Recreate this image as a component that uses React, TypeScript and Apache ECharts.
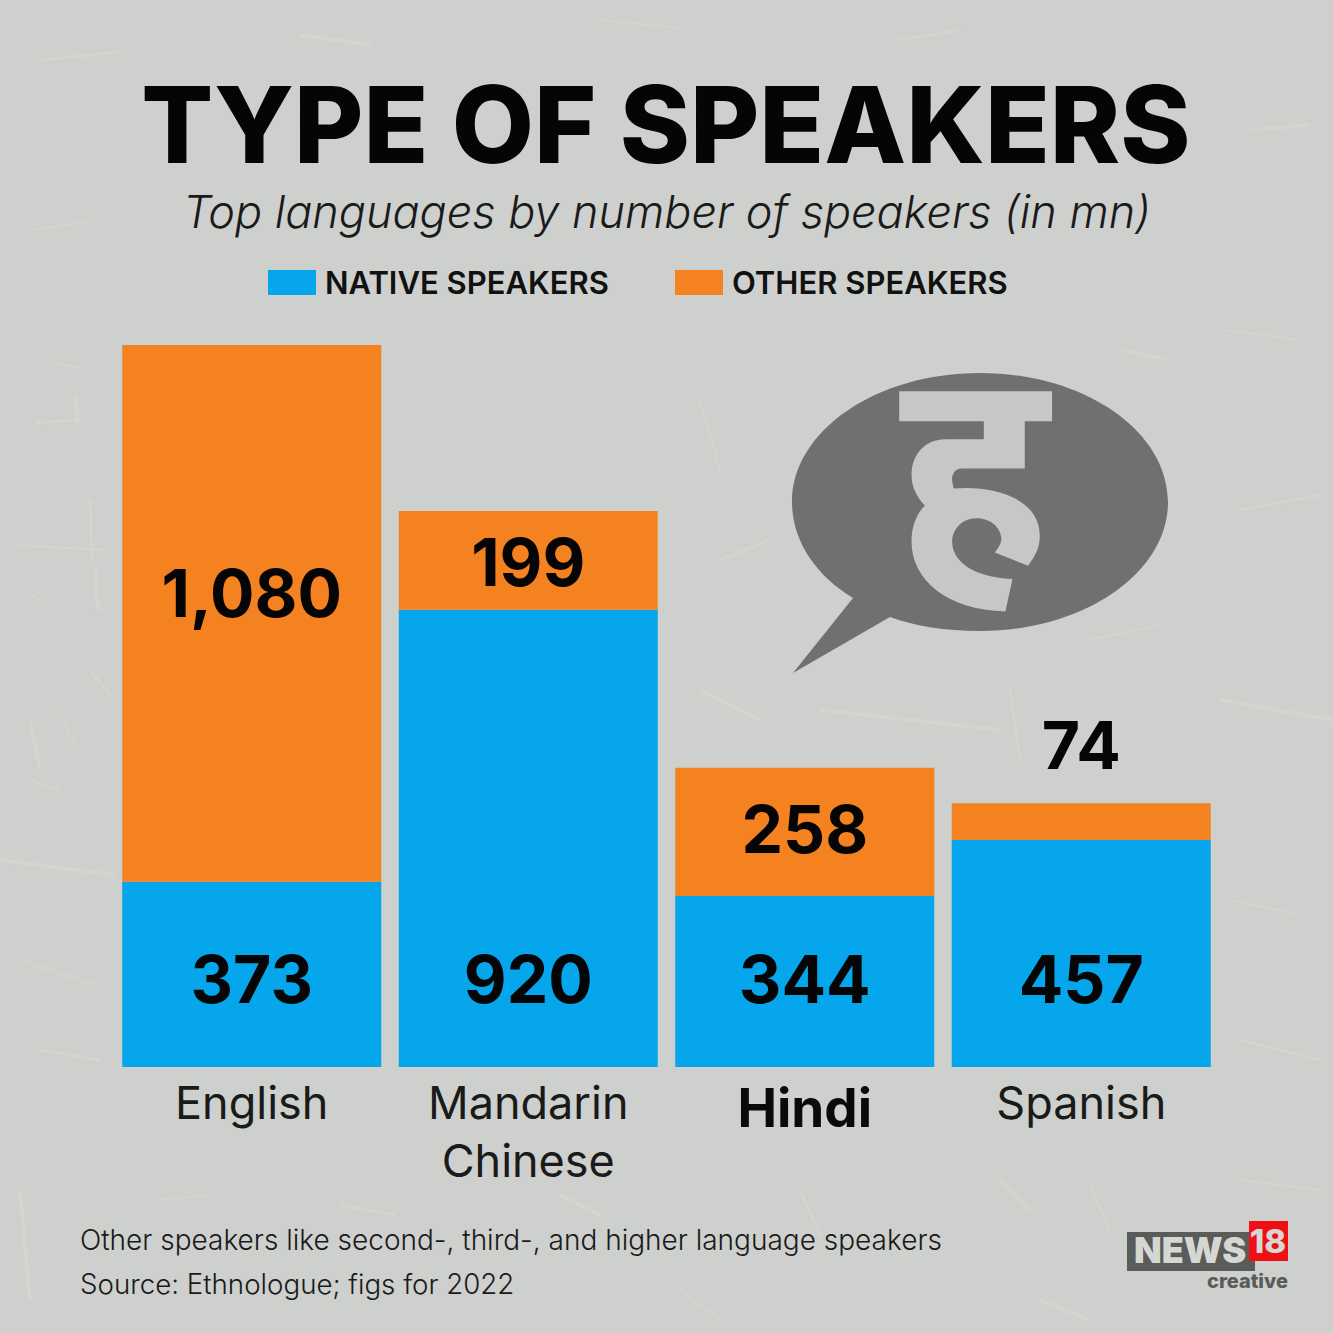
import React, { useEffect, useRef } from "react";
import * as echarts from "echarts";

const categories = ["English", "Mandarin\nChinese", "Hindi", "Spanish"];
const nativeSpeakers = [373, 920, 344, 457];
const otherSpeakers = [1080, 199, 258, 74];
const otherOffsets = [-20, 2, -3, -77];

const BUBBLE =
  "M980 373C1084 373 1168 431 1168 502C1168 573 1084 631 980 631C945 631 915 626 890 617L793 673L853 598C815 575 792 540 792 502C792 431 876 373 980 373Z";
const GLYPH =
  "M358 94L817 94L817 184L735 184L735 326L545 326C525 326 515 345 517 362C518 372 520 380 522 386C650 375 782 420 780 530C780 565 765 590 745 618L645 578C660 560 665 545 665 535C660 495 625 475 590 475C545 475 517 510 517 545C517 600 570 650 698 658L677 755C500 750 395 660 395 545C395 500 410 462 435 437C410 410 395 380 395 345C395 280 440 238 495 238L612 238L612 184L358 184Z";
echarts.graphic.registerShape("speechBubble", echarts.graphic.extendPath(BUBBLE, {}) as any);
echarts.graphic.registerShape("hindiGlyph", echarts.graphic.extendPath(GLYPH, {}) as any);

const FONT = "Inter, 'Noto Sans', sans-serif";

const scratches: number[][] = [
  [50, 362, 80, 368], [35, 423, 80, 420], [75, 395, 78, 425], [15, 545, 105, 550], [90, 500, 92, 560],
  [95, 570, 98, 610], [25, 590, 40, 600], [90, 670, 110, 695], [30, 720, 40, 770], [60, 715, 75, 745],
  [30, 780, 60, 790], [0, 860, 115, 875], [20, 960, 95, 985], [40, 1050, 100, 1060], [20, 1190, 30, 1300],
  [160, 1200, 210, 1195], [340, 1205, 395, 1215], [560, 1195, 600, 1215], [680, 1290, 720, 1320], [800, 1190, 820, 1235],
  [1000, 1180, 1030, 1210], [1090, 1185, 1110, 1230], [1240, 1180, 1320, 1190], [1040, 1300, 1090, 1320], [1225, 330, 1300, 340],
  [1240, 510, 1320, 495], [1220, 700, 1333, 720], [1230, 900, 1300, 915], [1240, 1040, 1320, 1060], [1250, 130, 1310, 125],
  [30, 230, 90, 222], [40, 60, 120, 52], [820, 710, 1000, 730], [1090, 640, 1160, 625], [1010, 690, 1020, 760],
  [700, 690, 760, 720], [700, 400, 720, 470], [720, 560, 770, 540], [1120, 350, 1170, 360], [600, 20, 680, 28],
  [900, 40, 960, 30], [300, 35, 370, 45],
];

export default function App() {
  const ref = useRef<HTMLDivElement>(null);
  useEffect(() => {
    const chart = echarts.init(ref.current!, null, { renderer: "svg" });
    const valueLabel = { show: true, fontFamily: FONT, fontWeight: 700, fontSize: 66, color: "#050505", letterSpacing: -3 };
    const text = (x: number, y: number, t: string, style: any) => ({
      type: "text", x, y, z: 10, style: { text: t, fontFamily: FONT, fill: "#111", textVerticalAlign: "middle", ...style },
    });
    chart.setOption({
      animation: false,
      backgroundColor: "#cdd0cc",
      legend: {
        left: 268, top: 267, padding: 0, itemWidth: 48, itemHeight: 25, itemGap: 66, icon: "rect",
        data: ["NATIVE SPEAKERS", "OTHER SPEAKERS"],
        textStyle: { fontFamily: FONT, fontWeight: 600, fontSize: 31, color: "#111", padding: [0, 0, 0, 4] },
      },
      grid: { left: 113.5, right: 113.5, top: 321.6, bottom: 266, containLabel: false },
      xAxis: {
        type: "category", data: categories,
        axisLine: { show: false }, axisTick: { show: false },
        axisLabel: {
          margin: 6, interval: 0, lineHeight: 58, verticalAlign: "top",
          formatter: (v: string) => (v === "Hindi" ? `{b|${v}}` : v),
          fontFamily: FONT, fontSize: 45, color: "#1a1a1a",
          rich: {
            b: { fontFamily: FONT, fontSize: 53, lineHeight: 70, fontWeight: 700, color: "#0a0a0a" },
          },
        },
      },
      yAxis: { type: "value", min: 0, max: 1500, interval: 500, show: false },
      graphic: [
        ...scratches.map(([x1, y1, x2, y2], i) => ({
          type: "line", z: -1, shape: { x1, y1, x2, y2 },
          style: { stroke: "#dadcd8", lineWidth: 2 + (i % 3), opacity: 0.4 },
        })),
        { type: "speechBubble", x: 0, y: 0, z: 5, style: { fill: "#6f716e" } },
        { type: "hindiGlyph", x: 780, y: 360, scaleX: 1 / 3, scaleY: 1 / 3, z: 6, style: { fill: "#c6c8c5" } },
        text(666, 124, "TYPE OF SPEAKERS", { fontSize: 106.5, fontWeight: 800, textAlign: "center", fill: "#050505", letterSpacing: -3.2 }),
        text(667, 211, "Top languages by number of speakers (in mn)", { fontSize: 45, fontWeight: 300, fontStyle: "italic", textAlign: "center", fill: "#1a1a1a" }),
        text(80, 1240, "Other speakers like second-, third-, and higher language speakers", { fontSize: 28, fontWeight: 300, fill: "#1a1a1a" }),
        text(80, 1284, "Source: Ethnologue; figs for 2022", { fontSize: 27.7, fontWeight: 300, fill: "#1a1a1a" }),
        { type: "rect", z: 7, shape: { x: 1127, y: 1232, width: 128, height: 39 }, style: { fill: "#5a5c5a" } },
        { type: "rect", z: 8, shape: { x: 1249, y: 1221, width: 39, height: 40 }, style: { fill: "#f00f14" } },
        text(1134, 1250, "NEWS", { fontSize: 36, fontWeight: 900, fill: "#d5d7d3", letterSpacing: -1 }),
        text(1268, 1241, "18", { fontSize: 33, fontWeight: 800, fill: "#d5d7d3", textAlign: "center", letterSpacing: -1 }),
        text(1288, 1281, "creative", { fontSize: 20, fontWeight: 800, fill: "#5a5c5a", textAlign: "right", letterSpacing: 1.5 }),
      ],
      series: [
        {
          name: "NATIVE SPEAKERS", type: "bar", stack: "total", barWidth: 259,
          itemStyle: { color: "#05a6eb" },
          data: nativeSpeakers.map((value) => ({ value, label: { ...valueLabel, position: "insideBottom", distance: 55, formatter: "{c}" } })),
        },
        {
          name: "OTHER SPEAKERS", type: "bar", stack: "total", barWidth: 259,
          itemStyle: { color: "#f58220" },
          data: otherSpeakers.map((value, i) => ({
            value,
            label: { ...valueLabel, position: "inside", offset: [0, otherOffsets[i]], formatter: (p: any) => Number(p.value).toLocaleString("en-US") },
          })),
        },
      ],
    });
    return () => chart.dispose();
  }, []);
  return <div ref={ref} style={{ position: "absolute", left: 0, top: 0, width: 1333, height: 1333 }} />;
}
